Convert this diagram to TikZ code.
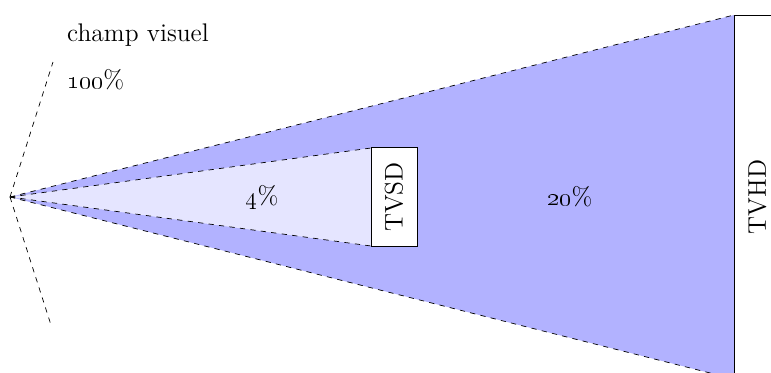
\documentclass[tikz,border=0pt]{standalone}
\usepackage{tikz}
\usetikzlibrary{positioning}

\begin{document}
\begin{tikzpicture}[font=\fontsize{14.5}{17}\selectfont]
    \tikzstyle{field} = [dashed, thin]
    \tikzstyle{label} = [rectangle, draw=black, fill=white, rotate=90, inner sep=0pt]

    \useasboundingbox (0,0) rectangle (15.42,7.44);

    \coordinate (eye) at (0.2,3.5);
    \coordinate (hdtop) at (14.68,7.14);
    \coordinate (hdbot) at (14.68,-0.14);
    \coordinate (sdtop) at (7.42,4.48);
    \coordinate (sdbot) at (7.42,2.52);
    \coordinate (fullup) at (1.06,6.2);
    \coordinate (fulldown) at (1.02,0.94);

    % zones
    \fill[blue!30] (eye) -- (hdtop) -- (hdbot) -- cycle;
    \fill[blue!10] (eye) -- (sdtop) -- (sdbot) -- cycle;

    \draw [field] (eye) -- (hdtop);
    \draw [field] (eye) -- (hdbot);
    \draw [field] (eye) -- (sdtop);
    \draw [field] (eye) -- (sdbot);
    \draw [field] (eye) -- (fullup);
    \draw [field] (eye) -- (fulldown);

    \node (tvsd) [label, minimum width=1.98cm, minimum height=0.92cm] at (7.88,3.5) {TVSD};
    \node (tvhd) [label, minimum width=7.28cm, minimum height=0.94cm] at (15.15,3.5) {TVHD};

    \node (inner) at (5.24,3.5) {\oldstylenums{4}\%};
    \node (outer) at (11.4,3.5) {\oldstylenums{20}\%};
    \node (champ) [anchor=west] at (1.22,6.74) {champ visuel};
    \node (full) [anchor=west] at (1.22,5.84) {\oldstylenums{100}\%};
\end{tikzpicture}
\end{document}
